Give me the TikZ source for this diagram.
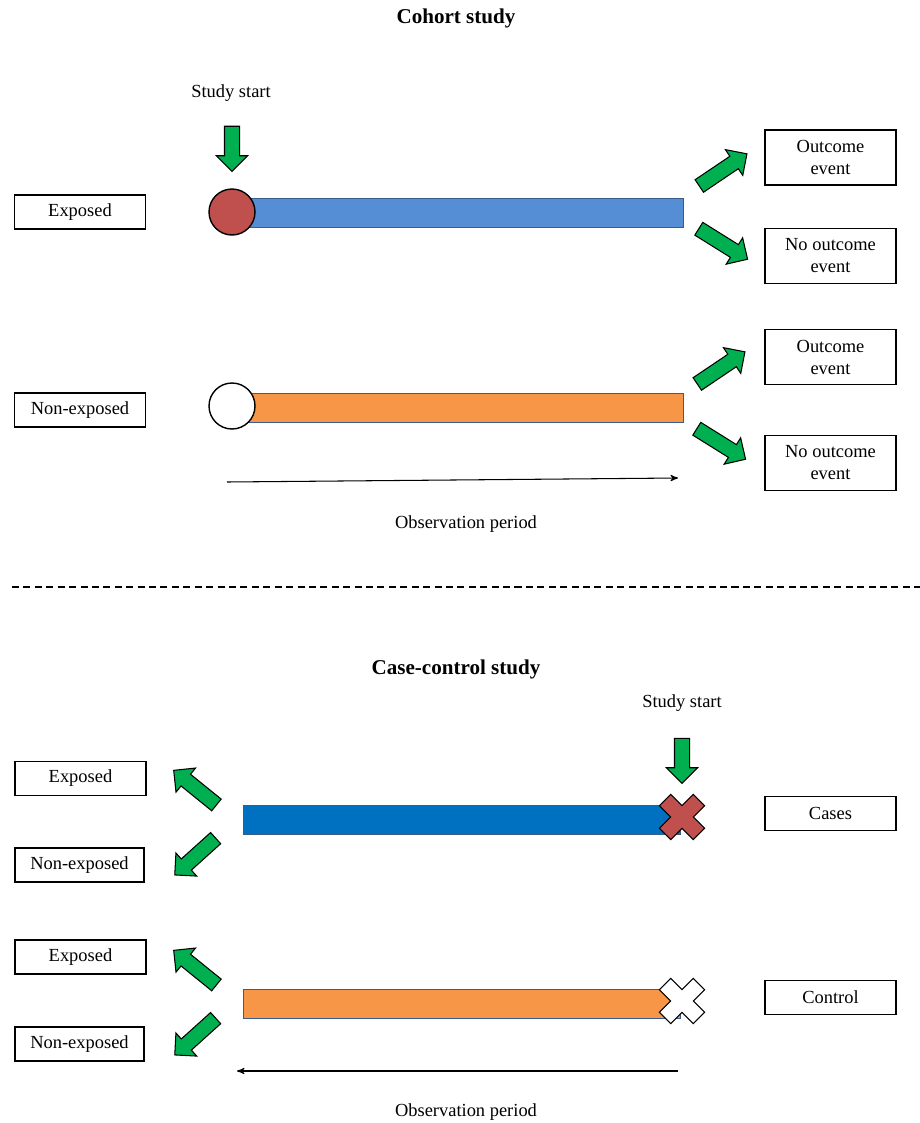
\documentclass[tikz,border=0pt]{standalone}
\usepackage{fontspec}
\setmainfont{Liberation Serif}
\usetikzlibrary{shapes.arrows,arrows,positioning}

\definecolor{arrowgreen}{RGB}{0,176,80}
\definecolor{lightblue}{RGB}{85,142,213}
\definecolor{darkblue}{RGB}{0,112,192}
\definecolor{barorange}{RGB}{247,150,70}
\definecolor{markred}{RGB}{192,80,77}
\definecolor{barline}{RGB}{56,93,138}

\tikzset{
  xmark/.pic={\draw[pic actions, rotate=45] (-24,-8) -- (-8,-8) -- (-8,-24) -- (8,-24) -- (8,-8) -- (24,-8)
    -- (24,8) -- (8,8) -- (8,24) -- (-8,24) -- (-8,8) -- (-24,8) -- cycle;}
}

\begin{document}
\begin{tikzpicture}[x=0.02cm,y=-0.02cm,>=stealth',
  txt/.style={font=\fontsize{10.5}{12.5}\selectfont},
  heading/.style={font=\fontsize{12}{14}\bfseries},
  box/.style={txt, draw, line width=0.6pt, rectangle, minimum width=2.62cm, minimum height=0.68cm, align=center, inner sep=1pt},
  tallbox/.style={box, minimum height=1.1cm},
  bar/.style={draw=barline, line width=0.5pt, fill=#1, minimum height=0.58cm, inner sep=0},
  dot/.style={circle, draw, line width=0.8pt, fill=#1, minimum size=0.92cm, inner sep=0},
  greenarrow/.style={single arrow, draw, line width=0.6pt, fill=arrowgreen, inner xsep=0, inner ysep=0.14cm,
    single arrow head extend=0.16cm, minimum height=#1},
  greenarrow/.default=0.9cm]

\useasboundingbox (0,0) rectangle (920,1123);

% cohort study
\node[heading] (t1) at (456,18) {Cohort study};
\node[txt] (s1) at (231,93) {Study start};
\node[greenarrow, rotate=-90] (d1) at (232,145) {};

\node[box] (e1) at (80,212) {Exposed};
\node[bar=lightblue, minimum width=9.02cm] (b1) at (457.5,212.5) {};
\node[dot=markred] (c1) at (232,212) {};
\node[greenarrow=1.15cm, rotate=34] (u1) at (720,172) {};
\node[greenarrow=1.15cm, rotate=-32] (w1) at (720,242) {};
\node[tallbox] (o1) at (830.5,157.5) {Outcome\\event};
\node[tallbox] (n1) at (830.5,256) {No outcome\\event};

\node[box] (e2) at (80,410) {Non-exposed};
\node[bar=barorange, minimum width=9.02cm] (b2) at (457.5,407.5) {};
\node[dot=white] (c2) at (232,406) {};
\node[greenarrow=1.15cm, rotate=34] (u2) at (718,370) {};
\node[greenarrow=1.15cm, rotate=-32] (w2) at (718,442) {};
\node[tallbox] (o2) at (830.5,357) {Outcome\\event};
\node[tallbox] (n2) at (830.5,463) {No outcome\\event};

\coordinate (p1) at (227,482);
\coordinate (q1) at (678,478);
\draw[->, line width=0.6pt] (p1) -- (q1);
\node[txt] (op1) at (466,524) {Observation period};

\coordinate (l1) at (12,587);
\coordinate (l2) at (920,587);
\draw[dashed, line width=0.6pt, dash pattern=on 4pt off 2.5pt] (l1) -- (l2);

% case-control study
\node[heading] (t2) at (456,669) {Case-control study};
\node[txt] (s2) at (682,703) {Study start};
\node[greenarrow, rotate=-90] (d2) at (682,757) {};

\node[box] (e3) at (80.5,778.5) {Exposed};
\node[box, minimum width=2.58cm] (f3) at (79.5,865) {Non-exposed};
\node[greenarrow=1.1cm, rotate=141] (u3) at (198,790) {};
\node[greenarrow=1.1cm, rotate=222] (w3) at (198,854) {};
\node[bar=darkblue, minimum width=8.74cm] (b3) at (461.5,819.5) {};
\pic[draw=black, line width=0.6pt, fill=markred] at (682,817) {xmark};
\node[box] (k1) at (830.5,813.5) {Cases};

\node[box] (e4) at (80.5,957) {Exposed};
\node[box, minimum width=2.58cm] (f4) at (79.5,1044) {Non-exposed};
\node[greenarrow=1.1cm, rotate=141] (u4) at (198,970) {};
\node[greenarrow=1.1cm, rotate=222] (w4) at (198,1034) {};
\node[bar=barorange, minimum width=8.74cm] (b4) at (461.5,1003.5) {};
\pic[draw=black, line width=0.6pt, fill=white] at (682,1001) {xmark};
\node[box] (k2) at (830.5,997.5) {Control};

\coordinate (p2) at (678,1071);
\coordinate (q2) at (237,1071);
\draw[->, line width=0.6pt] (p2) -- (q2);
\node[txt] (op2) at (466,1112) {Observation period};
\end{tikzpicture}
\end{document}
